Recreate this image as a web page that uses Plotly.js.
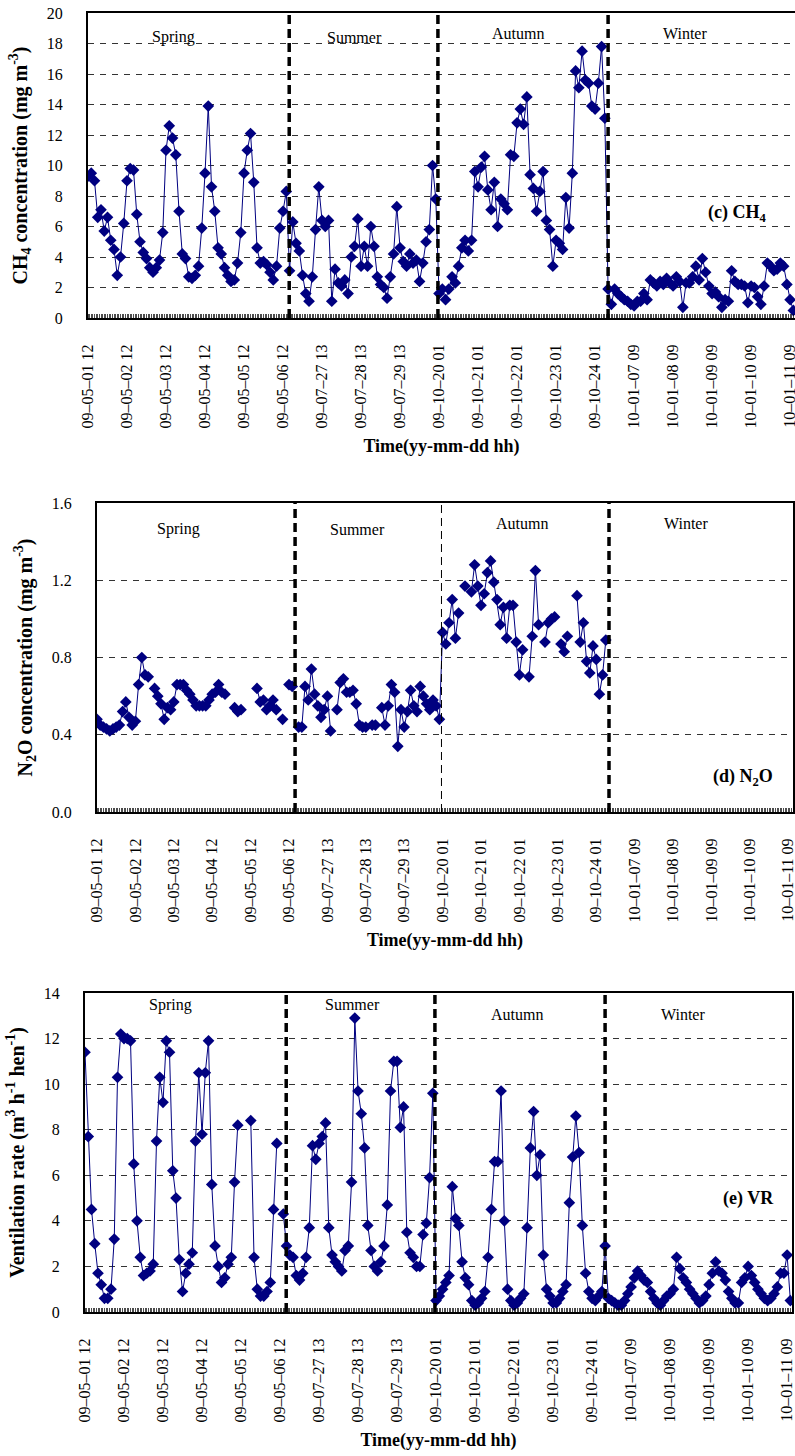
<!DOCTYPE html>
<html>
<head>
<meta charset="utf-8">
<script src="https://cdn.plot.ly/plotly-3.0.1.min.js"></script>
<style>html,body{margin:0;padding:0;background:#fff;}#chart{width:795px;height:1456px;}</style>
</head>
<body>
<div id="chart"></div>
<script>
// ---------------- DATA ----------------
const tickLabels = ["09–05–01 12","09–05–02 12","09–05–03 12","09–05–04 12","09–05–05 12","09–05–06 12",
  "09–07–27 13","09–07–28 13","09–07–29 13","09–10–20 01","09–10–21 01","09–10–22 01","09–10–23 01",
  "09–10–24 01","10–01–07 09","10–01–08 09","10–01–09 09","10–01–10 09","10–01–11 09"];
const tickHours = [0,24,48,72,96,120,144,168,192,216,240,264,288,312,336,360,384,408,432];
const seasons = ["Spring","Summer","Autumn","Winter"];
const seasonStartHour = [0,124,216,320];   // hour index of first sample of each season
const seasonBreakHour = [123.8,215.3,320]; // season change between samples
const sampleStep = 2;                      // hours between plotted samples

const ch4Spring = [9.3,9.5,9.0,6.6,7.1,5.7,6.6,5.1,4.5,2.8,4.0,6.2,9.0,9.8,9.7,6.8,5.0,4.3,3.9,3.3,3.0,3.3,3.8,5.6,11.0,12.6,11.8,10.7,7.0,4.2,3.9,2.7,2.6,2.8,3.4,5.9,9.5,13.9,8.6,7.0,4.6,4.2,3.3,2.8,2.4,2.5,3.6,5.6,9.5,11.0,12.1,8.9,4.6,3.6,3.7,3.5,3.0,2.5,3.4,5.9,7.0,8.3];
const ch4Summer = [3.1,6.3,4.9,4.4,2.8,1.6,1.1,2.7,5.8,8.6,6.4,6.0,6.4,1.1,3.2,2.3,2.1,2.5,1.6,4.0,4.7,6.5,3.4,4.7,3.4,6.0,4.7,2.7,2.2,2.0,1.3,2.7,4.2,7.3,4.6,3.7,3.4,4.2,3.6,3.8,2.4,3.6,5.0,5.8,10.0,7.8];
const ch4Autumn = [1.6,1.9,1.2,1.9,2.7,2.3,3.4,4.6,5.1,4.4,5.1,9.6,8.6,9.9,10.6,8.4,7.1,8.9,6.0,7.8,7.5,7.1,10.7,10.6,12.8,13.7,12.7,14.5,9.4,8.5,7.0,8.3,9.6,6.4,5.8,3.4,5.1,4.9,4.5,7.9,5.9,9.5,16.2,15.1,17.5,15.6,15.4,13.9,13.7,15.4,17.8,13.1];
const ch4Winter = [1.9,0.9,1.9,1.6,1.4,1.2,1.1,0.9,0.8,1.1,1.1,1.6,1.2,2.5,2.3,2.1,2.4,2.2,2.6,2.3,2.1,2.7,2.4,0.7,2.3,2.3,2.7,3.4,2.5,3.9,3.0,2.1,1.6,1.7,1.4,0.7,1.2,1.1,3.1,2.4,2.2,2.2,2.1,1.0,2.1,2.0,1.4,0.9,2.1,3.6,3.4,3.1,3.2,3.6,3.4,2.2,1.2,0.5];

const n2oSpring = [0.48,0.45,0.44,0.43,0.42,0.43,0.44,0.45,0.52,0.57,0.49,0.45,0.47,0.66,0.80,0.71,0.70,null,0.64,0.60,0.56,0.48,0.54,0.53,0.57,0.66,0.66,0.66,0.63,0.61,0.58,0.55,0.55,0.55,0.55,0.58,0.61,0.62,0.66,0.62,0.61,null,null,0.54,0.52,0.53,null,null,null,null,0.64,0.57,0.58,0.53,0.55,0.58,0.53,null,0.48,null,0.66,0.65];
const n2oSummer = [null,0.44,0.44,0.65,0.58,0.74,0.61,0.55,0.49,0.53,0.60,0.42,null,0.53,0.67,0.69,0.62,0.62,0.63,0.56,0.45,0.44,0.44,null,0.45,0.45,null,0.54,0.45,0.55,0.66,0.62,0.34,0.53,0.44,0.52,0.63,0.55,0.52,0.65,0.60,0.56,0.53,0.58,0.55,0.48];
const n2oAutumn = [0.93,0.87,0.98,1.10,0.90,1.03,null,1.17,null,1.14,1.28,1.17,1.07,1.13,1.24,1.30,1.19,1.10,0.97,1.06,0.90,1.07,1.07,0.88,0.71,0.84,null,0.70,0.91,1.25,0.97,null,0.88,0.98,1.00,1.01,null,0.87,0.83,0.91,null,null,1.12,0.88,0.98,0.78,0.72,0.86,0.79,0.61,0.71,0.89];
const n2oWinter = [];

const vrSpring = [11.4,7.7,4.5,3.0,1.7,1.2,0.6,0.6,1.0,3.2,10.3,12.2,12.0,12.0,11.9,6.5,4.0,2.4,1.6,1.7,1.8,2.1,7.5,10.3,9.2,11.9,11.4,6.2,5.0,2.3,0.9,1.7,2.1,2.6,7.5,10.5,7.8,10.5,11.9,5.6,2.9,2.0,1.3,1.5,2.1,2.4,5.7,8.2,null,null,null,8.4,2.4,1.0,0.7,0.7,0.9,1.3,4.5,7.4,null,4.3];
const vrSummer = [2.9,2.5,2.4,1.6,1.4,1.7,2.4,3.7,7.3,6.7,7.4,7.7,8.3,3.7,2.5,2.2,2.0,1.8,2.7,2.9,5.7,12.9,9.7,8.7,7.2,3.8,2.7,2.0,1.8,2.2,2.9,4.7,9.7,11.0,11.0,8.1,9.0,3.5,2.6,2.4,2.0,2.0,3.4,3.9,5.9,9.6];
const vrAutumn = [0.5,0.7,1.0,1.3,1.6,5.5,4.1,3.8,2.2,1.5,1.2,0.5,0.3,0.4,0.6,0.9,2.4,4.5,6.6,6.6,9.7,4.0,1.0,0.5,0.3,0.4,0.6,0.8,3.7,7.2,8.8,6.0,6.9,2.5,1.0,0.7,0.4,0.4,0.6,0.9,1.2,4.8,6.8,8.6,7.0,3.8,1.7,0.9,0.6,0.5,0.7,0.9];
const vrWinter = [2.9,0.6,0.5,0.4,0.3,0.3,0.5,0.8,1.1,1.5,1.8,1.6,1.4,1.3,0.9,0.6,0.4,0.3,0.5,0.7,0.8,1.0,2.4,1.9,1.5,1.3,1.0,0.8,0.6,0.4,0.5,0.7,1.2,1.7,2.2,1.8,1.7,1.4,0.9,0.6,0.4,0.4,1.3,1.5,2.0,1.6,1.3,1.0,0.8,0.6,0.5,0.6,0.8,1.1,1.7,1.7,2.5,0.5];

// ---------------- BUILD ----------------
function series(parts){
  const x=[], y=[];
  parts.forEach((arr,s)=>arr.forEach((v,i)=>{ x.push(seasonStartHour[s]+sampleStep*i); y.push(v); }));
  return {x,y};
}
const NAVY='#000080';
function trace(parts, xa, ya){
  const d=series(parts);
  return {x:d.x, y:d.y, xaxis:xa, yaxis:ya, type:'scatter', mode:'lines+markers', connectgaps:false,
    line:{color:NAVY,width:1}, marker:{symbol:'diamond',size:9,color:NAVY,line:{width:0}}, hoverinfo:'skip'};
}
const data=[
  trace([ch4Spring,ch4Summer,ch4Autumn,ch4Winter],'x','y'),
  trace([n2oSpring,n2oSummer,n2oAutumn,n2oWinter],'x2','y2'),
  trace([vrSpring,vrSummer,vrAutumn,vrWinter],'x3','y3')
];

const W=795,H=1456, FONT='Liberation Serif';
const px=v=>v/W, py=v=>1-v/H;

function xAxis(domain, anchor){
  return {domain, anchor, range:[0,435], tickmode:'array', tickvals:tickHours, ticktext:tickLabels,
    tickangle:-90, tickfont:{family:FONT,size:16,color:'#000'}, ticks:'', ticklabelstandoff:18,
    ticklabeloverflow:'allow',
    showline:true, linewidth:2, linecolor:'#000', mirror:true, showgrid:false, zeroline:false,
    minor:{ticks:'inside', tickmode:'linear', tick0:0, dtick:1, ticklen:4, tickwidth:0.7, tickcolor:'#000', showgrid:false},
    title:{text:'<b>Time(yy-mm-dd hh)</b>', font:{family:FONT,size:18,color:'#000'}, standoff:12},
    automargin:false, fixedrange:true};
}
function yAxis(domain, anchor, range, dtick, fmt, title){
  return {domain, anchor, range, tick0:0, dtick, tickformat:fmt, tickfont:{family:FONT,size:16,color:'#000'},
    ticks:'', ticklabelstandoff:20, showline:true, linewidth:2, linecolor:'#000', mirror:true,
    showgrid:true, gridcolor:'#333', gridwidth:1, griddash:'6px,6px', zeroline:false,
    title:{text:title, font:{family:FONT,size:20,color:'#000'}, standoff:14}, automargin:false, fixedrange:true};
}

const layout={
  width:W, height:H, margin:{l:0,r:0,t:0,b:0}, paper_bgcolor:'#fff', plot_bgcolor:'#fff', showlegend:false,
  font:{family:FONT,color:'#000'},
  xaxis: xAxis([px(88),1],'y'),
  yaxis: yAxis([py(318),py(13)],'x',[0,20],2,'d','<b>CH<sub>4</sub> concentration (mg m<sup>-3</sup>)</b>'),
  xaxis2: xAxis([px(97),px(793)],'y2'),
  yaxis2: yAxis([py(812),py(503)],'x2',[0,1.6],0.4,'.1f','<b>N<sub>2</sub>O concentration (mg m<sup>-3</sup>)</b>'),
  xaxis3: xAxis([px(85),px(792)],'y3'),
  yaxis3: yAxis([py(1312),py(993)],'x3',[0,14],2,'d','<b>Ventilation rate (m<sup>3</sup> h<sup>-1</sup> hen<sup>-1</sup>)</b>'),
  shapes:[], annotations:[]
};

// season break lines
const panels=[['x','y'],['x2','y2'],['x3','y3']];
panels.forEach((p,pi)=>{
  seasonBreakHour.forEach((h,bi)=>{
    const thin = (pi===1 && bi===1);
    layout.shapes.push({type:'line', xref:p[0], yref:p[1]+' domain', x0:h, x1:h, y0:0, y1:1,
      line:{color:'#000', width: thin?1:3.5, dash: thin?'8px,5px':'9px,5px'}, layer:'above'});
  });
});

function ann(text,x,y,size,extra){
  return Object.assign({text, x:px(x), y:py(y), xref:'paper', yref:'paper', showarrow:false,
    xanchor:'center', yanchor:'middle', font:{family:FONT,size:size,color:'#000'}}, extra||{});
}
const seasonPos=[
  [[173,37],[354,37],[518,33],[685,33]],
  [[178,529],[357,529],[522,523],[686,523]],
  [[170,1005],[352,1004],[517,1014],[683,1014]]
];
seasonPos.forEach(row=>row.forEach((p,i)=>layout.annotations.push(ann(seasons[i],p[0],p[1],16))));
layout.annotations.push(ann('<b>(c) CH<sub>4</sub></b>',737,213,18));
layout.annotations.push(ann('<b>(d) N<sub>2</sub>O</b>',743,777,18));
layout.annotations.push(ann('<b>(e) VR</b>',748,1198,18));

Plotly.newPlot('chart', data, layout, {staticPlot:true, displayModeBar:false});
</script>
</body>
</html>
